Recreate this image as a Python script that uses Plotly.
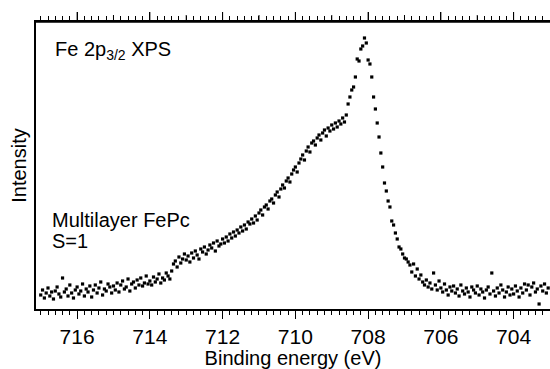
import plotly.graph_objects as go

# Binding energy grid (eV)
energy_ev = [
    717.00, 716.95, 716.90, 716.85, 716.80, 716.75, 716.70, 716.65, 716.60, 716.55, 716.50, 716.45, 716.40, 716.35, 716.30, 716.25, 716.20, 716.15, 716.10, 716.05,
    716.00, 715.95, 715.90, 715.85, 715.80, 715.75, 715.70, 715.65, 715.60, 715.55, 715.50, 715.45, 715.40, 715.35, 715.30, 715.25, 715.20, 715.15, 715.10, 715.05,
    715.00, 714.95, 714.90, 714.85, 714.80, 714.75, 714.70, 714.65, 714.60, 714.55, 714.50, 714.45, 714.40, 714.35, 714.30, 714.25, 714.20, 714.15, 714.10, 714.05,
    714.00, 713.95, 713.90, 713.85, 713.80, 713.75, 713.70, 713.65, 713.60, 713.55, 713.50, 713.45, 713.40, 713.35, 713.30, 713.25, 713.20, 713.15, 713.10, 713.05,
    713.00, 712.95, 712.90, 712.85, 712.80, 712.75, 712.70, 712.65, 712.60, 712.55, 712.50, 712.45, 712.40, 712.35, 712.30, 712.25, 712.20, 712.15, 712.10, 712.05,
    712.00, 711.95, 711.90, 711.85, 711.80, 711.75, 711.70, 711.65, 711.60, 711.55, 711.50, 711.45, 711.40, 711.35, 711.30, 711.25, 711.20, 711.15, 711.10, 711.05,
    711.00, 710.95, 710.90, 710.85, 710.80, 710.75, 710.70, 710.65, 710.60, 710.55, 710.50, 710.45, 710.40, 710.35, 710.30, 710.25, 710.20, 710.15, 710.10, 710.05,
    710.00, 709.95, 709.90, 709.85, 709.80, 709.75, 709.70, 709.65, 709.60, 709.55, 709.50, 709.45, 709.40, 709.35, 709.30, 709.25, 709.20, 709.15, 709.10, 709.05,
    709.00, 708.95, 708.90, 708.85, 708.80, 708.75, 708.70, 708.65, 708.60, 708.55, 708.50, 708.45, 708.40, 708.35, 708.30, 708.25, 708.20, 708.15, 708.10, 708.05,
    708.00, 707.95, 707.90, 707.85, 707.80, 707.75, 707.70, 707.65, 707.60, 707.55, 707.50, 707.45, 707.40, 707.35, 707.30, 707.25, 707.20, 707.15, 707.10, 707.05,
    707.00, 706.95, 706.90, 706.85, 706.80, 706.75, 706.70, 706.65, 706.60, 706.55, 706.50, 706.45, 706.40, 706.35, 706.30, 706.25, 706.20, 706.15, 706.10, 706.05,
    706.00, 705.95, 705.90, 705.85, 705.80, 705.75, 705.70, 705.65, 705.60, 705.55, 705.50, 705.45, 705.40, 705.35, 705.30, 705.25, 705.20, 705.15, 705.10, 705.05,
    705.00, 704.95, 704.90, 704.85, 704.80, 704.75, 704.70, 704.65, 704.60, 704.55, 704.50, 704.45, 704.40, 704.35, 704.30, 704.25, 704.20, 704.15, 704.10, 704.05,
    704.00, 703.95, 703.90, 703.85, 703.80, 703.75, 703.70, 703.65, 703.60, 703.55, 703.50, 703.45, 703.40, 703.35, 703.30, 703.25, 703.20, 703.15, 703.10, 703.05,
]

# Intensity (arbitrary units)
intensity = [
    14, 19, 11, 16, 21, 13, 17, 10, 18, 22, 15, 12, 31, 17, 20, 13, 24, 16, 11, 19,
    22, 15, 18, 25, 13, 20, 17, 23, 12, 19, 24, 16, 21, 27, 14, 20, 18, 25, 22, 16,
    23, 19, 26, 17, 24, 28, 20, 22, 30, 18, 25, 27, 21, 29, 24, 31, 23, 26, 33, 25,
    28, 24, 32, 27, 30, 35, 26, 31, 29, 36, 33, 30, 38, 45, 48, 42, 52, 46, 50, 55,
    49, 53, 47, 56, 51, 58, 54, 50, 60, 57, 62, 55, 59, 64, 61, 66, 58, 68, 63, 65,
    70, 66, 72, 68, 75, 71, 77, 73, 79, 76, 82, 78, 84, 80, 87, 85, 90, 86, 93, 89,
    96, 99, 94, 102, 104, 100, 108, 110, 106, 114, 117, 112, 120, 124, 121, 128, 131, 127, 135, 139,
    142, 137, 146, 150, 154, 149, 158, 162, 157, 166, 168, 164, 171, 174, 169, 176, 179, 173, 181, 178,
    184, 180, 186, 182, 188, 185, 191, 187, 194, 205,
    212, 219, 222, 232, 250, 248, 260, 263, 271, 266,
    249, 245, 232, 212, 200, 186, 172, 156, 142, 126, 118, 108, 102, 88, 84, 76, 70, 62, 60, 55,
    51, 50, 47, 44, 37, 45, 33, 40, 30, 34, 27, 24, 29, 22, 26, 20, 36, 24, 19, 28,
    21, 17, 25, 19, 14, 22, 18, 23, 16, 20, 13, 24, 18, 15, 21, 17, 12, 22, 19, 16,
    23, 14, 20, 17, 11, 19, 22, 15, 36, 18, 13, 21, 16, 24, 19, 12, 17, 22, 14, 20,
    15, 23, 18, 12, 21, 16, 25, 19, 24, 14, 22, 26, 17, 20, 5, 23, 18, 25, 16, 21,
]

major_ticks = [716, 714, 712, 710, 708, 706, 704]
major_labels = ["716", "714", "712", "710", "708", "706", "704"]
odd_ticks = [715, 713, 711, 709, 707, 705]

x_range = [717.13, 703.0]
y_range = [0, 287]

FONT = "Liberation Sans, Arial, Helvetica, sans-serif"

W, H = 550, 369
ML, MR, MT, MB = 36, 0, 22, 60
PW, PH = W - ML - MR, H - MT - MB


def px(xp):
    return (xp - ML) / PW


def py(yp):
    return (H - MB - yp) / PH


fig = go.Figure()
fig.add_trace(go.Scatter(
    x=energy_ev, y=intensity, mode="markers",
    marker=dict(symbol="square", size=3.2, color="black", line=dict(width=0)),
    showlegend=False, hoverinfo="skip",
))

fig.update_layout(
    width=W, height=H,
    margin=dict(l=ML, r=MR, t=MT, b=MB, pad=0),
    paper_bgcolor="white", plot_bgcolor="white",
    font=dict(family=FONT, color="black", size=19),
    xaxis=dict(
        range=x_range, autorange=False,
        showline=True, linecolor="black", linewidth=1.5, mirror="allticks",
        ticks="outside", ticklen=8, tickwidth=1, tickcolor="black",
        tickvals=major_ticks, ticktext=major_labels,
        tickfont=dict(size=21, family=FONT),
        showgrid=False, zeroline=False,
        minor=dict(dtick=0.2, tick0=0, ticks="outside", ticklen=4, tickwidth=1,
                   tickcolor="black", showgrid=False),
        title=dict(text="Binding energy (eV)", font=dict(size=20, family=FONT), standoff=0),
    ),
    yaxis=dict(
        range=y_range, autorange=False,
        showline=True, linecolor="black", linewidth=1.5,
        ticks="", showticklabels=False, showgrid=False, zeroline=False,
        title=dict(text="Intensity", font=dict(size=20, family=FONT), standoff=2),
    ),
)

# top frame line of the plot area
fig.add_shape(type="line", xref="paper", yref="paper", x0=0, x1=1, y0=1, y1=1,
              line=dict(color="black", width=1.5), layer="above")
# longer major and medium ticks on the top edge
for v in major_ticks:
    fig.add_shape(type="line", xref="x", yref="paper", x0=v, x1=v, y0=1, y1=1 + 10 / PH,
                  line=dict(color="black", width=1), layer="above")
for v in odd_ticks:
    fig.add_shape(type="line", xref="x", yref="paper", x0=v, x1=v, y0=1, y1=1 + 7 / PH,
                  line=dict(color="black", width=1), layer="above")

fig.add_annotation(
    text="Fe 2p<sub>3/2</sub> XPS", xref="paper", yref="paper",
    x=px(53), y=py(51), xanchor="left", yanchor="middle", showarrow=False,
    font=dict(size=20, family=FONT, color="black"),
)
fig.add_annotation(
    text="Multilayer FePc", xref="paper", yref="paper",
    x=px(50), y=py(220), xanchor="left", yanchor="middle", showarrow=False,
    font=dict(size=20, family=FONT, color="black"),
)
fig.add_annotation(
    text="S=1", xref="paper", yref="paper",
    x=px(50), y=py(241), xanchor="left", yanchor="middle", showarrow=False,
    font=dict(size=20, family=FONT, color="black"),
)

fig.write_html("out.html", config={"displayModeBar": False},
               post_script="document.body.style.margin='0';")
